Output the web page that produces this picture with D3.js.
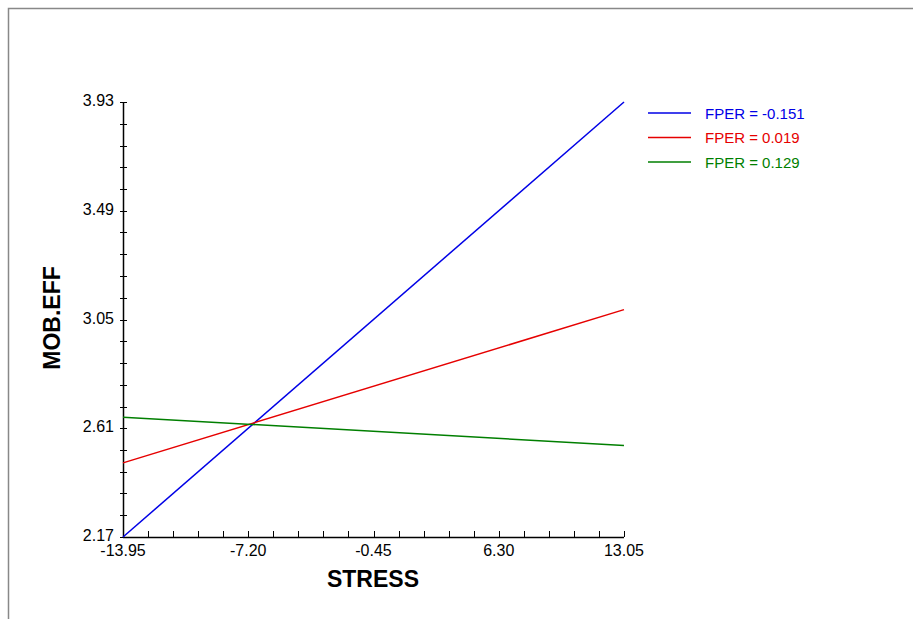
<!DOCTYPE html>
<html>
<head>
<meta charset="utf-8">
<script src="https://cdn.jsdelivr.net/npm/d3@7"></script>
<style>
  body { margin: 0; background: #fff; }
  svg { display: block; font-family: "Liberation Sans", Arial, sans-serif; }
</style>
</head>
<body>
<svg id="chart" width="913" height="619"></svg>
<script>
// simple slopes of MOB.EFF on STRESS at three FPER levels
const xTicks = [-13.95, -7.20, -0.45, 6.30, 13.05]
const yTicks = [2.17, 2.61, 3.05, 3.49, 3.93]
const seriesNames = ["FPER = -0.151", "FPER = 0.019", "FPER = 0.129"]
const seriesColors = ["#0000e6", "#e60000", "#007f00"]
// value at x = -13.95 and at x = 13.05
const blueVals = [2.17, 3.93]
const redVals = [2.47, 3.09]
const greenVals = [2.655, 2.54]

const series = [blueVals, redVals, greenVals]

const fmt = d => d.toFixed(2)   // keep plain hyphen for negatives

const svg = d3.select("#chart")

// frame
svg.append("path")
  .attr("d", "M8.5,619 L8.5,8.5 L913,8.5")
  .attr("fill", "none")
  .attr("stroke", "#888")
  .attr("stroke-width", 1.5)

const x = d3.scaleLinear().domain([-13.95, 13.05]).range([123, 624])
const y = d3.scaleLinear().domain([2.17, 3.93]).range([537, 102])

// minor ticks: 5 per major interval
const xMinor = d3.range(0, 21).map(i => -13.95 + i * 1.35)
const yMinor = d3.range(0, 21).map(i => 2.17 + i * 0.088)

const g = svg.append("g")

// x axis
g.append("line")
  .attr("x1", x(-13.95)).attr("x2", x(13.05))
  .attr("y1", 537.5).attr("y2", 537.5)
  .attr("stroke", "#000").attr("stroke-width", 1.5)
g.selectAll(".xt").data(xMinor).join("line")
  .attr("x1", d => Math.round(x(d)) + 0.5).attr("x2", d => Math.round(x(d)) + 0.5)
  .attr("y1", 537).attr("y2", 531)
  .attr("stroke", "#000")
g.selectAll(".xl").data(xTicks).join("text")
  .attr("x", d => x(d)).attr("y", 556)
  .attr("text-anchor", "middle")
  .attr("font-size", 16)
  .text(fmt)

// y axis
g.append("line")
  .attr("x1", 123.5).attr("x2", 123.5)
  .attr("y1", y(2.17)).attr("y2", y(3.93))
  .attr("stroke", "#000").attr("stroke-width", 1.5)
g.selectAll(".ym").data(yMinor).join("line")
  .attr("x1", 120).attr("x2", 127)
  .attr("y1", d => Math.round(y(d)) + 0.5).attr("y2", d => Math.round(y(d)) + 0.5)
  .attr("stroke", "#000")
g.selectAll(".yl").data(yTicks).join("text")
  .attr("x", 114).attr("y", d => y(d) + 4)
  .attr("text-anchor", "end")
  .attr("font-size", 16)
  .text(fmt)

// axis titles
svg.append("text")
  .attr("x", 373).attr("y", 587)
  .attr("text-anchor", "middle")
  .attr("font-size", 23).attr("font-weight", "bold")
  .text("STRESS")
svg.append("text")
  .attr("transform", "translate(60,318) rotate(-90)")
  .attr("text-anchor", "middle")
  .attr("font-size", 23).attr("font-weight", "bold")
  .text("MOB.EFF")

// lines
const line = d3.line().x(d => x(d[0])).y(d => y(d[1]))
series.forEach((vals, i) => {
  svg.append("path")
    .datum([[-13.95, vals[0]], [13.05, vals[1]]])
    .attr("d", line)
    .attr("fill", "none")
    .attr("stroke", seriesColors[i])
    .attr("stroke-width", 1.5)
})

// legend
const leg = svg.append("g")
seriesNames.forEach((name, i) => {
  const ly = 113 + i * 24.5
  leg.append("line")
    .attr("x1", 648).attr("x2", 691)
    .attr("y1", ly).attr("y2", ly)
    .attr("stroke", seriesColors[i]).attr("stroke-width", 1.5)
  leg.append("text")
    .attr("x", 705).attr("y", ly + 5.5)
    .attr("font-size", 15)
    .attr("fill", seriesColors[i])
    .text(name)
})
</script>
</body>
</html>
